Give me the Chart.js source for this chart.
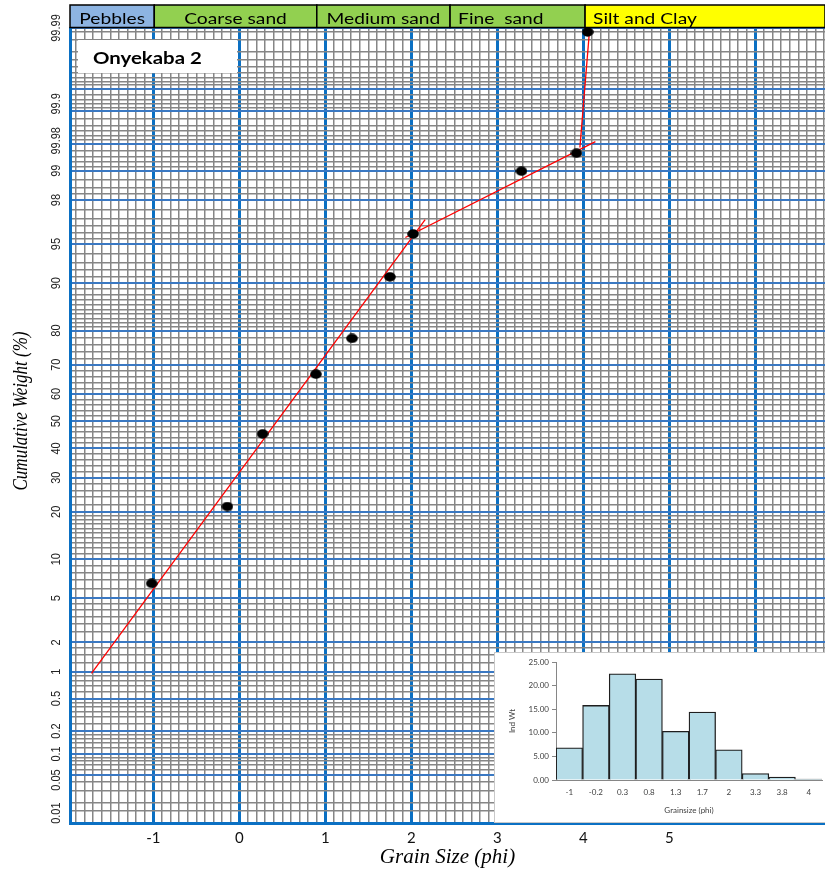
<!DOCTYPE html>
<html>
<head>
<meta charset="utf-8">
<script src="https://cdn.jsdelivr.net/npm/chart.js@4.4.1/dist/chart.umd.min.js"></script>
<style>
  html, body { margin: 0; padding: 0; background: #fff; }
  #wrap { position: relative; width: 825px; height: 874px; overflow: hidden; }
  #main { position: absolute; left: 0; top: 0; }
  #inset { position: absolute; left: 494px; top: 652px; width: 340px; height: 171px;
           background: #fff; border: 1px solid #c9c9c9; box-sizing: border-box; }
  #hist { position: absolute; left: 0; top: 0; }
</style>
</head>
<body>
<div id="wrap">
  <canvas id="main" width="825" height="874"></canvas>
  <div id="inset"><canvas id="hist" width="338" height="169"></canvas></div>
</div>
<script>
// ---- Sample: Onyekaba 2 ----
// Cumulative curve (probability paper)
const phiPoints = [-1.02, -0.14, 0.27, 0.89, 1.31, 1.75, 2.02, 3.28, 3.92, 4.05];
const cumWeight = [6.6, 21.4, 45.3, 66.9, 77.9, 91.0, 95.9, 98.99, 99.36, 99.985];

// Fitted straight-line segments (phi, cumulative %)
const fit1Phi = [-1.72, 2.16];
const fit1Pct = [0.96, 96.94];
const fit2Phi = [1.93, 4.14];
const fit2Pct = [95.6, 99.53];
const fit3Phi = [3.96, 4.07];
const fit3Pct = [99.45, 99.985];

// Axis tick labels
const xTickValues = [-1, 0, 1, 2, 3, 4, 5];
const xTickLabels = ['-1', '0', '1', '2', '3', '4', '5'];
const yTickText = ['0.01', '0.05', '0.1', '0.2', '0.5', '1', '2', '5', '10', '20', '30', '40', '50',
                   '60', '70', '80', '90', '95', '98', '99', '99.98', '99.9', '99.99'];
const yTickAt   = [0.0136, 0.043, 0.1, 0.2, 0.5, 1, 2, 5, 10, 20, 30, 40, 50,
                   60, 70, 80, 90, 95, 98, 99, 99.54, 99.84, 99.987];

// Size classes across the top
const bandNames = ['Pebbles', 'Coarse sand', 'Medium sand', 'Fine  sand', 'Silt and Clay'];
const bandEdges = [-1.97, -0.99, 0.9, 2.45, 4.02, 6.81];

// Histogram of individual weights
const grainClasses = ['-1', '-0.2', '0.3', '0.8', '1.3', '1.7', '2', '3.3', '3.8', '4'];
const indWeight = [6.8, 15.8, 22.5, 21.4, 10.3, 14.4, 6.4, 1.35, 0.64, 0.2];

// ---- probability-paper helpers ----
function probit(p) {
  const a = [-3.969683028665376e+01, 2.209460984245205e+02, -2.759285104469687e+02,
             1.383577518672690e+02, -3.066479806614716e+01, 2.506628277459239e+00];
  const b = [-5.447609879822406e+01, 1.615858368580409e+02, -1.556989798598866e+02,
             6.680131188771972e+01, -1.328068155288572e+01];
  const c = [-7.784894002430293e-03, -3.223964580411365e-01, -2.400758277161838e+00,
             -2.549732539343734e+00, 4.374664141464968e+00, 2.938163982698783e+00];
  const d = [7.784695709041462e-03, 3.224671290700398e-01, 2.445134137142996e+00,
             3.754408661907416e+00];
  const pl = 0.02425, ph = 1 - pl;
  let q, r;
  if (p < pl) {
    q = Math.sqrt(-2 * Math.log(p));
    return (((((c[0]*q+c[1])*q+c[2])*q+c[3])*q+c[4])*q+c[5]) / ((((d[0]*q+d[1])*q+d[2])*q+d[3])*q+1);
  }
  if (p <= ph) {
    q = p - 0.5; r = q * q;
    return (((((a[0]*r+a[1])*r+a[2])*r+a[3])*r+a[4])*r+a[5])*q / (((((b[0]*r+b[1])*r+b[2])*r+b[3])*r+b[4])*r+1);
  }
  q = Math.sqrt(-2 * Math.log(1 - p));
  return -(((((c[0]*q+c[1])*q+c[2])*q+c[3])*q+c[4])*q+c[5]) / ((((d[0]*q+d[1])*q+d[2])*q+d[3])*q+1);
}
const Z = pct => probit(pct / 100);

const yMinPct = 0.0095, yMaxPct = 99.987;
const xMin = -1.97, xMax = 6.81;

// graph-paper rulings
const minorLow = [0.015, 0.02, 0.03, 0.04, 0.06, 0.07, 0.08, 0.09, 0.12, 0.14, 0.16, 0.18,
  0.25, 0.3, 0.35, 0.4, 0.45, 0.6, 0.7, 0.8, 0.9, 1.25, 1.5, 1.75, 2.5, 3, 3.5, 4, 4.5,
  6, 7, 8, 9, 11, 12, 13, 14, 15, 16, 17, 18, 19, 22, 24, 26, 28, 32, 34, 36, 38, 42, 44, 46, 48];
const majorLow = [0.05, 0.1, 0.2, 0.5, 1, 2, 5, 10, 20, 30, 40];
const minorPct = minorLow.concat(minorLow.map(p => +(100 - p).toFixed(4)), [99.95]);
const majorPct = majorLow.concat([50, 60, 70, 80, 90, 95, 98, 99, 99.5, 99.8, 99.9]);

const blueV = '#0b70c3', blueH = '#3a78c2', grayLine = '#868686';

// elliptical marker
const dot = document.createElement('canvas');
dot.width = 12; dot.height = 10;
(function () {
  const c = dot.getContext('2d');
  c.fillStyle = '#000';
  c.beginPath(); c.ellipse(6, 5, 5.8, 4.7, 0, 0, Math.PI * 2); c.fill();
})();

function drawText(ctx, text, x, y, o) {
  ctx.save();
  ctx.translate(x, y);
  ctx.scale(o.sx || 1, 1);
  if (o.rotate) ctx.rotate(o.rotate);
  ctx.font = o.font;
  ctx.textAlign = o.align || 'center';
  ctx.textBaseline = o.baseline || 'middle';
  ctx.fillStyle = o.color || '#000';
  ctx.fillText(text, 0, 0);
  ctx.restore();
}

const paperDecor = {
  id: 'paperDecor',
  beforeDatasetsDraw(chart) {
    const { ctx, chartArea } = chart;
    // sample name box
    ctx.save();
    ctx.fillStyle = '#fff';
    ctx.fillRect(chartArea.left + 8, 40, 159, 33);
    ctx.restore();
    drawText(ctx, 'Onyekaba 2', chartArea.left + 23, 64,
      { font: 'bold 17px Lato', align: 'left', baseline: 'alphabetic', sx: 1.2 });
  },
  afterDraw(chart) {
    const { ctx, chartArea, scales } = chart;
    const xs = scales.x, ys = scales.y;
    // size-class band
    const colors = ['#8db4e2', '#92d050', '#92d050', '#92d050', '#ffff00'];
    const aligns = ['center', 'center', 'center', 'left', 'left'];
    const top = 5, bottom = chartArea.top - 0.5;
    bandNames.forEach((name, i) => {
      const x0 = Math.max(xs.getPixelForValue(bandEdges[i]), chartArea.left - 1);
      const x1 = xs.getPixelForValue(bandEdges[i + 1]);
      ctx.save();
      ctx.fillStyle = colors[i];
      ctx.fillRect(x0, top, x1 - x0, bottom - top);
      ctx.strokeStyle = '#000';
      ctx.lineWidth = 1.5;
      ctx.strokeRect(x0, top, x1 - x0, bottom - top);
      ctx.restore();
      const tx = aligns[i] === 'center' ? (x0 + x1) / 2 : x0 + 8;
      drawText(ctx, name, tx, 24, { font: '16px Lato', align: aligns[i], baseline: 'alphabetic', sx: 1.2 });
    });
    // probability tick labels
    yTickText.forEach((t, i) => {
      const y = ys.getPixelForValue(Z(yTickAt[i]));
      drawText(ctx, t, 56, y, { font: '11px "Liberation Sans"', rotate: -Math.PI / 2, sx: 1.2, color: '#222' });
    });
    // axis titles
    drawText(ctx, 'Cumulative Weight (%)', 22, 411,
      { font: 'italic 17px "Liberation Serif"', rotate: -Math.PI / 2, sx: 1.2 });
  }
};

const seg = (phis, pcts) => phis.map((x, i) => ({ x, y: Z(pcts[i]) }));
const fitStyle = { showLine: true, borderColor: '#ff0000', borderWidth: 1.3, pointRadius: 0, fill: false };

new Chart(document.getElementById('main'), {
  type: 'scatter',
  data: {
    datasets: [
      { label: 'Cumulative weight', data: phiPoints.map((x, i) => ({ x, y: Z(cumWeight[i]) })),
        pointStyle: dot, pointRadius: 6, showLine: false },
      Object.assign({ label: 'Fit 1', data: seg(fit1Phi, fit1Pct) }, fitStyle),
      Object.assign({ label: 'Fit 2', data: seg(fit2Phi, fit2Pct) }, fitStyle),
      Object.assign({ label: 'Fit 3', data: seg(fit3Phi, fit3Pct) }, fitStyle)
    ]
  },
  options: {
    responsive: false,
    animation: false,
    devicePixelRatio: 1,
    events: [],
    layout: { autoPadding: false, padding: { top: 28, left: 0, right: 0, bottom: 0 } },
    plugins: { legend: { display: false }, tooltip: { enabled: false } },
    scales: {
      x: {
        type: 'linear', min: xMin, max: xMax,
        afterBuildTicks(scale) {
          const t = [];
          for (let i = -19; i <= 68; i++) t.push({ value: i / 10, major10: i % 10 === 0 });
          scale.ticks = t;
        },
        afterFit(scale) { scale.height = 51; },
        grid: {
          drawTicks: true, tickLength: 6, tickColor: 'rgba(0,0,0,0)',
          color: c => (c.tick && c.tick.major10) ? blueV : grayLine,
          lineWidth: c => (c.tick && c.tick.major10) ? 3 : 1.5
        },
        border: { display: true, color: blueV, width: 3 },
        ticks: {
          autoSkip: false, maxRotation: 0, minRotation: 0, padding: 0,
          color: '#111', font: { family: 'Lato', size: 15 },
          callback: v => {
            const k = xTickValues.indexOf(Math.round(v * 10) / 10);
            return k >= 0 ? xTickLabels[k] : '';
          }
        },
        title: {
          display: true, text: 'Grain Size (phi)', color: '#000',
          font: { family: '"Liberation Serif"', style: 'italic', size: 21 },
          padding: { top: 0, bottom: 4 }
        }
      },
      y: {
        type: 'linear', min: Z(yMinPct), max: Z(yMaxPct),
        afterBuildTicks(scale) {
          const t = [];
          minorPct.forEach(p => t.push({ value: Z(p), blue: false }));
          majorPct.forEach(p => t.push({ value: Z(p), blue: true }));
          t.push({ value: Z(yMaxPct), blue: true });
          t.sort((a, b) => a.value - b.value);
          scale.ticks = t;
        },
        afterFit(scale) { scale.width = 70; },
        grid: {
          drawTicks: false,
          color: c => (c.tick && c.tick.blue) ? blueH : grayLine,
          lineWidth: c => (c.tick && c.tick.blue) ? 2 : 1.5
        },
        border: { display: true, color: blueV, width: 3 },
        ticks: { display: false, autoSkip: false }
      }
    }
  },
  plugins: [paperDecor]
});

// ---- inset histogram ----
new Chart(document.getElementById('hist'), {
  type: 'bar',
  data: {
    labels: grainClasses,
    datasets: [{
      label: 'Ind Wt', data: indWeight,
      backgroundColor: '#b7dde8', borderColor: '#1e1e1e', borderWidth: 1.3,
      barPercentage: 1, categoryPercentage: 1
    }]
  },
  options: {
    responsive: false,
    animation: false,
    devicePixelRatio: 1,
    events: [],
    layout: { autoPadding: false, padding: { top: 9, right: 11, left: 0, bottom: 0 } },
    plugins: { legend: { display: false }, tooltip: { enabled: false } },
    scales: {
      x: {
        afterFit(scale) { scale.height = 42; },
        grid: { display: false, drawTicks: false },
        border: { display: true, color: '#868686', width: 1 },
        ticks: { padding: 8, color: '#404040', font: { family: 'Lato', size: 8 }, maxRotation: 0, autoSkip: false },
        title: { display: true, text: 'Grainsize (phi)', color: '#404040',
                 font: { family: 'Lato', size: 8 }, padding: { top: 0, bottom: 7 } }
      },
      y: {
        min: 0, max: 25,
        afterFit(scale) { scale.width = 61; },
        grid: { drawOnChartArea: false, drawTicks: true, tickLength: 4, color: '#868686' },
        border: { display: true, color: '#868686', width: 1 },
        ticks: { stepSize: 5, padding: 3, color: '#404040', font: { family: 'Lato', size: 8 },
                 callback: v => v.toFixed(2) },
        title: { display: true, text: 'Ind Wt', color: '#404040',
                 font: { family: 'Lato', size: 8 }, padding: { top: 13, bottom: 0 } }
      }
    }
  }
});
</script>
</body>
</html>
